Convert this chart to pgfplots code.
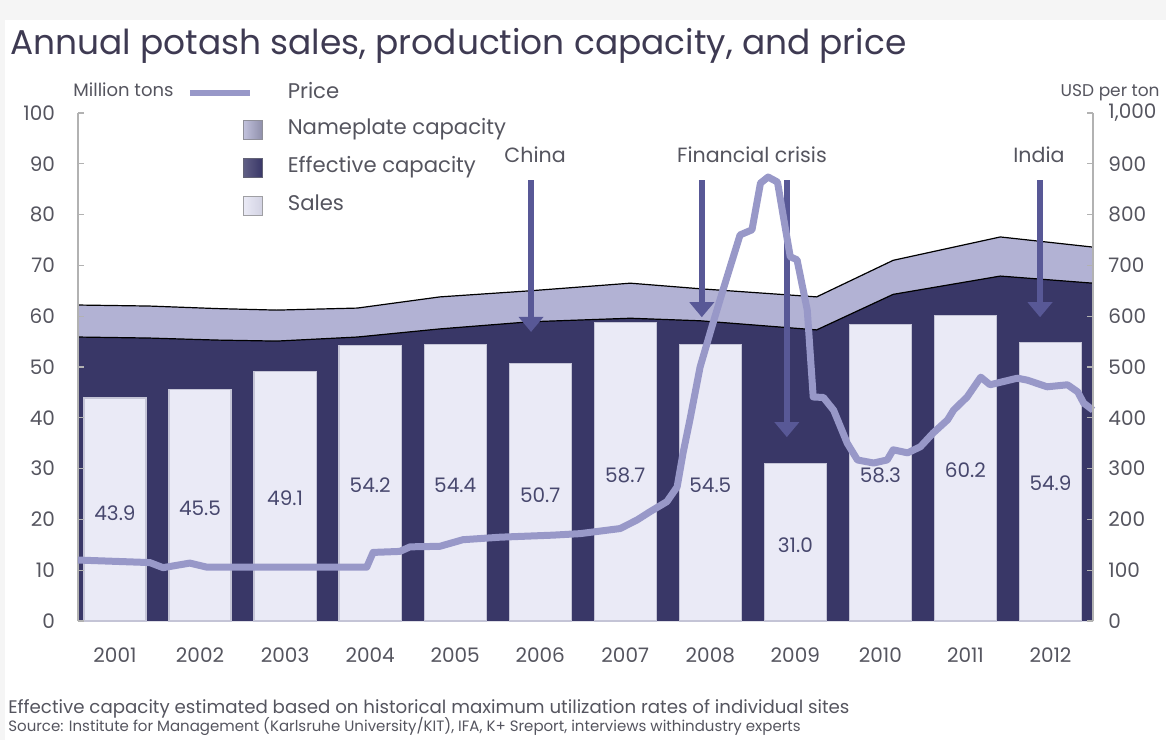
\documentclass[border=0pt]{standalone}
\usepackage{pgfplots}
\pgfplotsset{compat=1.18}
\usepackage{pgfplotstable}
\usepackage{fontspec}
\setmainfont{Poppins}
\usetikzlibrary{arrows.meta}

\definecolor{titlecol}{RGB}{62,58,82}
\definecolor{txtcol}{RGB}{85,85,95}
\definecolor{efcol}{RGB}{57,55,103}
\definecolor{npcol}{RGB}{178,178,212}
\definecolor{barcol}{RGB}{234,234,246}
\definecolor{barsh}{RGB}{210,210,226}
\definecolor{baredge}{RGB}{196,196,214}
\definecolor{pricecol}{RGB}{152,152,200}
\definecolor{arrowcol}{RGB}{88,88,150}
\definecolor{labcol}{RGB}{72,72,110}

\pgfplotstableread{
x n e
-0.435 62.2 55.9
0.4 62.0 55.7
1.2 61.5 55.3
1.9 61.2 55.1
2.85 61.6 55.9
3.82 63.8 57.5
4.88 65.0 58.9
6.06 66.5 59.6
6.88 65.4 59.1
8.25 63.8 57.3
9.15 71.0 64.3
10.41 75.6 67.9
11.5 73.6 66.5
}\captab

\pgfplotstableread{
x p
-0.435 120
0.41 115
0.565 105
0.88 114
1.08 106
2.96 106
3.035 135
3.35 137
3.47 146
3.82 147
4.09 160
4.53 165
5.15 169
5.47 172
5.94 182
6.14 199
6.29 215
6.49 235
6.61 264
6.68 331
6.76 396
6.88 500
7.02 580
7.15 652
7.35 760
7.49 770
7.59 862
7.68 874
7.79 864
7.86 795
7.94 717
8.02 711
8.14 612
8.21 441
8.33 440
8.45 415
8.61 350
8.73 317
8.92 311
9.08 317
9.15 337
9.32 331
9.47 343
9.62 370
9.79 396
9.86 415
10.02 441
10.18 480
10.29 465
10.61 478
10.73 474
10.96 461
11.2 465
11.32 451
11.39 429
11.5 415
}\pricetab

\pgfplotstableread{
x s ly lab
0 43.9 21.3 43.9
1 45.5 22.2 45.5
2 49.1 24.2 49.1
3 54.2 26.8 54.2
4 54.4 26.8 54.4
5 50.7 24.8 50.7
6 58.7 28.7 58.7
7 54.5 26.8 54.5
8 31.0 15.0 31.0
9 58.3 28.7 58.3
10 60.2 29.7 60.2
11 54.9 27.2 54.9
}\salestab

\begin{document}
\begin{tikzpicture}
\useasboundingbox (0,0) rectangle (583pt,370pt);
\fill[gray!8] (0,0) rectangle (583pt,370pt);
\fill[white] (2.5pt,0) rectangle (583pt,360pt);

\node[anchor=base west, font=\fontsize{17.2pt}{20pt}\selectfont, text=titlecol, inner sep=0pt] at (5pt,342.5pt) {Annual potash sales, production capacity, and price};
\node[anchor=base west, font=\fontsize{9pt}{10pt}\selectfont, text=txtcol, inner sep=0pt] at (36.5pt,321.5pt) {Million tons};
\node[anchor=base east, font=\fontsize{8.5pt}{10pt}\selectfont, text=txtcol, inner sep=0pt] at (580pt,321.5pt) {USD per ton};
\node[anchor=base west, font=\fontsize{9.1pt}{10pt}\selectfont, text=txtcol, inner sep=0pt] at (4pt,13.5pt) {Effective capacity estimated based on historical maximum utilization rates of individual sites};
\node[anchor=base west, font=\fontsize{7.5pt}{8pt}\selectfont, text=txtcol, inner sep=0pt] at (4pt,4.5pt) {Source: Institute for Management (Karlsruhe University/KIT), IFA, K+ Sreport, interviews withindustry experts};

\begin{axis}[
  at={(39pt,59.5pt)}, anchor=south west,
  scale only axis, width=507.5pt, height=254pt,
  xmin=-0.435, xmax=11.5, ymin=0, ymax=100,
  axis on top,
  axis y line*=left, axis x line*=bottom,
  x axis line style={draw=none},
  y axis line style={draw=gray!60, line width=0.6pt},
  ytick={0,10,...,100},
  xtick={0,...,11},
  xticklabels={2001,2002,2003,2004,2005,2006,2007,2008,2009,2010,2011,2012},
  tick align=inside,
  major tick length=3pt,
  ytick style={draw=gray!60, line width=0.6pt},
  xtick style={draw=none},
  tick label style={font=\fontsize{10pt}{12pt}\selectfont, text=txtcol},
  yticklabel style={xshift=-8pt},
  xticklabel style={yshift=-9.7pt},
  /pgf/number format/assume math mode=true,
  clip=false,
]
\addplot[fill=npcol, draw=none] table[x=x,y=n] {\captab} \closedcycle;
\addplot[fill=efcol, draw=none] table[x=x,y=e] {\captab} \closedcycle;
\addplot[black, line width=0.6pt] table[x=x,y=n] {\captab};
\addplot[black, line width=0.6pt] table[x=x,y=e] {\captab};
\addplot[ybar, bar width=0.73, fill=barcol, draw=baredge, line width=0.6pt] table[x=x,y=s] {\salestab};
\addplot[draw=none, mark=none, nodes near coords, point meta=explicit symbolic,
  nodes near coords style={anchor=center, font=\fontsize{10pt}{12pt}\selectfont, text=labcol}]
  table[x=x,y=ly,meta=lab] {\salestab};

\draw[arrowcol, line width=3pt, -{Triangle[width=12pt,length=7.5pt]}] (axis cs:4.892,86.8) -- (axis cs:4.892,56.9);
\draw[arrowcol, line width=3pt, -{Triangle[width=12pt,length=7.5pt]}] (axis cs:6.90,86.8) -- (axis cs:6.90,59.8);
\draw[arrowcol, line width=3pt, -{Triangle[width=12pt,length=7.5pt]}] (axis cs:7.90,86.8) -- (axis cs:7.90,36.2);
\draw[arrowcol, line width=3pt, -{Triangle[width=12pt,length=7.5pt]}] (axis cs:10.877,86.8) -- (axis cs:10.877,59.8);
\node[anchor=base, font=\fontsize{10.3pt}{12pt}\selectfont, text=txtcol] at (axis cs:4.94,90.2) {China};
\node[anchor=base, font=\fontsize{10.3pt}{12pt}\selectfont, text=txtcol] at (axis cs:7.49,90.2) {Financial crisis};
\node[anchor=base, font=\fontsize{10.3pt}{12pt}\selectfont, text=txtcol] at (axis cs:10.865,90.2) {India};
\end{axis}

\begin{axis}[
  at={(39pt,59.5pt)}, anchor=south west,
  scale only axis, width=507.5pt, height=254pt,
  xmin=-0.435, xmax=11.5, ymin=0, ymax=1000,
  axis on top,
  axis y line*=right, axis x line=none,
  y axis line style={draw=gray!60, line width=0.6pt},
  ytick={0,100,...,1000},
  tick align=inside, major tick length=3pt,
  ytick style={draw=gray!60, line width=0.6pt},
  tick label style={font=\fontsize{10pt}{12pt}\selectfont, text=txtcol},
  yticklabel style={xshift=4.2pt},
  /pgf/number format/assume math mode=true,
  clip=false,
  legend style={at={(axis description cs:0.1626,1.057)}, anchor=north west,
    draw=none, fill=none, inner sep=0pt, outer sep=0pt,
    row sep=9.0pt, /tikz/column sep=12.5pt,
    nodes={inner sep=0pt, text height=7pt, text depth=2pt, font=\fontsize{10.6pt}{12pt}\selectfont, text=txtcol}},
  legend cell align=left,
]
\addplot[pricecol, line width=3.5pt, line join=round,
  legend image code/.code={\draw[overlay, pricecol, line width=3pt] (-26.5pt,0pt) -- (3.5pt,0pt);}]
  table[x=x,y=p] {\pricetab};
\addlegendentry{Price}
\addlegendimage{legend image code/.code={\draw[left color=npcol!80!white, right color=npcol!80!black, draw=gray!70!npcol] (0pt,-4.75pt) rectangle (9.5pt,4.75pt);}}
\addlegendentry{Nameplate capacity}
\addlegendimage{legend image code/.code={\draw[left color=efcol!80!white, right color=efcol, draw=gray!60!efcol] (0pt,-4.75pt) rectangle (9.5pt,4.75pt);}}
\addlegendentry{Effective capacity}
\addlegendimage{legend image code/.code={\draw[left color=barcol, right color=barsh, draw=gray!70!barcol] (0pt,-4.75pt) rectangle (9.5pt,4.75pt);}}
\addlegendentry{Sales}
\end{axis}
\end{tikzpicture}
\end{document}
